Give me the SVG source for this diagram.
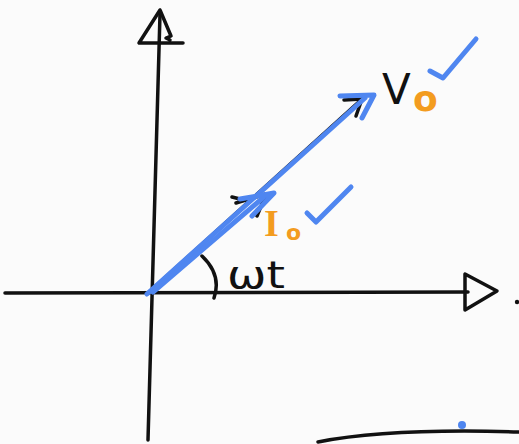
<svg xmlns="http://www.w3.org/2000/svg" width="519" height="444" viewBox="0 0 519 444">
<style>
.ink{fill:none;stroke:#111;stroke-width:3.5;stroke-linecap:round;stroke-linejoin:round}
.blue{fill:none;stroke:#4f86f0;stroke-width:5;stroke-linecap:round;stroke-linejoin:round}
.lbl{font-family:"DejaVu Sans",sans-serif}
</style>
<rect width="519" height="444" fill="#fbfbfb"/>
<g id="axes">
<path class="ink" d="M160 14 L148 440"/>
<path class="ink" d="M160 10 L139 43 L183 43 M160 10 L171 36 L166 38 L170 40"/>
<path class="ink" d="M5 293 L468 292"/>
<path class="ink" d="M465 274 L465 310 L497 291 Z"/>
<circle cx="517" cy="302" r="2.2" fill="#111"/>
</g>
<g id="connectors">
<path class="ink" d="M148 293 L362 99"/>
<path class="ink" d="M344 100 L362 99 L356 116"/>
<path class="ink" d="M232 197 L240 199 M236 203 L266 194 L257 216"/>
<path class="blue" d="M147 294 L365 98"/>
<path class="blue" d="M340 96 L374 95 L362 118"/>
<path class="blue" d="M153 292 L265 196"/>
<path class="blue" d="M240 199 L274 193 L252 216"/>
<path class="ink" d="M202 256 Q222 275 214 298"/>
</g>
<g id="V0">
<text class="lbl" x="382" y="104" font-size="42" fill="#111">V</text>
<text class="lbl" x="413" y="111" font-size="36" font-weight="bold" fill="#f39c1f">o</text>
<path class="blue" d="M430 71 L443 78 L476 39"/>
</g>
<g id="I0">
<text x="264" y="236" font-family="'Liberation Serif',serif" font-size="38" font-weight="bold" fill="#f39c1f">I</text>
<text class="lbl" x="286" y="240" font-size="22" font-weight="bold" fill="#f39c1f">o</text>
<path class="blue" d="M307 213 L316 222 L351 187"/>
</g>
<g id="wt">
<text class="lbl" x="227" y="288" font-size="38" fill="#111" textLength="58" lengthAdjust="spacingAndGlyphs">ωt</text>
</g>
<g id="bottom">
<path class="ink" d="M318 442 Q390 428 519 432"/>
<circle cx="462" cy="425" r="4" fill="#4f86f0"/>
</g>
</svg>
